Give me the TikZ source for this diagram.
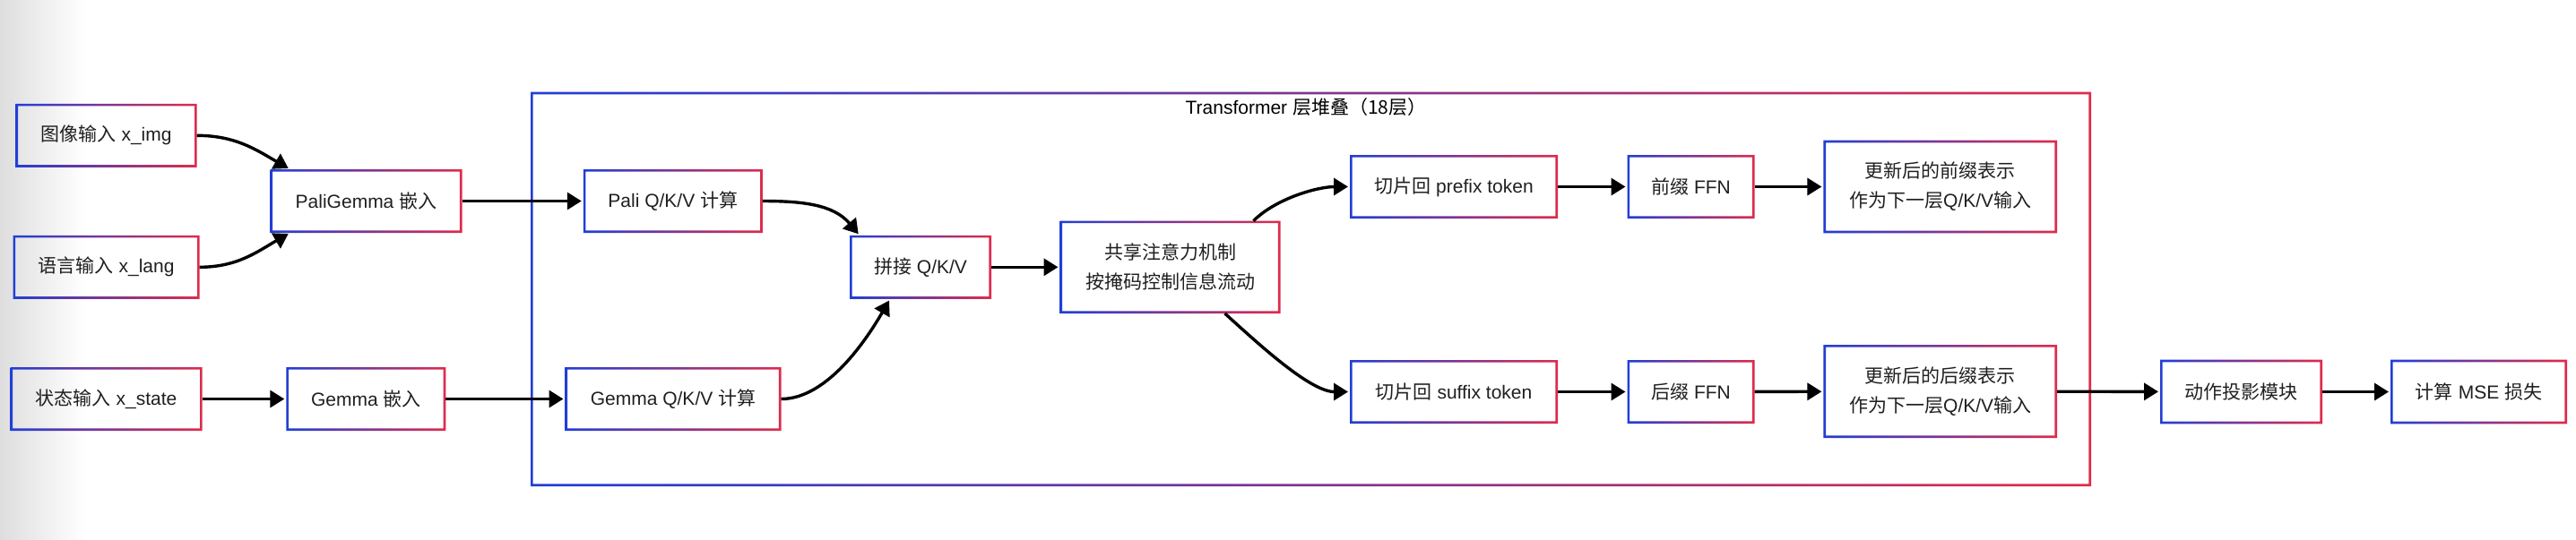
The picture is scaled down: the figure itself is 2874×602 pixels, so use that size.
\documentclass[tikz,border=0pt]{standalone}
\usepackage{fontspec}
\setmainfont{Liberation Sans}
\newfontfamily\cjk{Noto Sans CJK SC}
\newcommand{\zh}[1]{{\cjk #1}}
\usetikzlibrary{arrows.meta}
\definecolor{lblue}{RGB}{33,62,214}
\definecolor{lred}{RGB}{222,44,76}
\begin{document}
\begin{tikzpicture}[x=0.5pt,y=-0.5pt,
	box/.style={inner sep=0pt,outer sep=0pt,minimum height=35.5pt,align=center,text=black!88,font=\fontsize{10.5pt}{16.5pt}\selectfont},
	conn/.style={line width=1.7pt,shorten >=1pt,-{Triangle[length=8pt,width=9.5pt]}}]
		\useasboundingbox (0,0) rectangle (2874,602);
		\shade[left color=black!13,right color=white] (0,0) rectangle (95,602);
		\node[box,minimum width=870.5pt,minimum height=220.15pt] (stack) at (1462.5,322.85) {};
		\node[box,text=black] (title) at (1457,120) {Transformer \zh{层堆叠（18层）}};
		\node[box,minimum width=101pt] (img) at (118.6,151.3) {\zh{图像输入} x\_img};
		\node[box,minimum width=104pt] (lang) at (118.6,298.3) {\zh{语言输入} x\_lang};
		\node[box,minimum width=107pt] (state) at (118.6,445.5) {\zh{状态输入} x\_state};
		\node[box,minimum width=107pt] (pali) at (408.5,224.5) {PaliGemma \zh{嵌入}};
		\node[box,minimum width=89pt] (gemma) at (408.3,445.5) {Gemma \zh{嵌入}};
		\node[box,minimum width=100pt] (paliqkv) at (750.8,224.5) {Pali Q/K/V \zh{计算}};
		\node[box,minimum width=120.5pt] (gemmaqkv) at (751,445.5) {Gemma Q/K/V \zh{计算}};
		\node[box,minimum width=79pt] (concat) at (1027,298.3) {\zh{拼接} Q/K/V};
		\node[box,minimum width=123pt,minimum height=51.7pt] (attn) at (1305.5,298.3) {\zh{共享注意力机制}\\\zh{按掩码控制信息流动}};
		\node[box,minimum width=116pt] (preslice) at (1622,208.5) {\zh{切片回} prefix token};
		\node[box,minimum width=71pt] (preffn) at (1886.5,208.5) {\zh{前缀} FFN};
		\node[box,minimum width=130.3pt,minimum height=51.8pt] (preout) at (2164.7,208.5) {\zh{更新后的前缀表示}\\\zh{作为下一层}Q/K/V\zh{输入}};
		\node[box,minimum width=116pt] (sufslice) at (1622,437.5) {\zh{切片回} suffix token};
		\node[box,minimum width=71pt] (sufffn) at (1886.5,437.5) {\zh{后缀} FFN};
		\node[box,minimum width=130.3pt,minimum height=52pt] (sufout) at (2164.7,437) {\zh{更新后的后缀表示}\\\zh{作为下一层}Q/K/V\zh{输入}};
		\node[box,minimum width=90.5pt,minimum height=35.8pt] (action) at (2500.5,437.5) {\zh{动作投影模块}};
		\node[box,minimum width=98.5pt,minimum height=35.8pt] (mse) at (2765.5,437.5) {\zh{计算} MSE \zh{损失}};
		\foreach \n in {stack,img,lang,state,pali,gemma,paliqkv,gemmaqkv,concat,attn,preslice,preffn,preout,sufslice,sufffn,sufout,action,mse}
		{\shade[even odd rule,left color=lblue,right color=lred] (\n.north west) rectangle (\n.south east)
			([shift={(1.3pt,-1.3pt)}]\n.north west) rectangle ([shift={(-1.3pt,1.3pt)}]\n.south east);}
		\draw[conn] (img.east) to[out=0,in=150] ([xshift=11pt]pali.north west);
		\draw[conn] (lang.east) to[out=0,in=-150] ([xshift=11pt]pali.south west);
		\draw[conn] (pali) -- (paliqkv);
		\draw[conn] (state) -- (gemma);
		\draw[conn] (gemma) -- (gemmaqkv);
		\draw[conn] (paliqkv.east) to[out=0,in=130] ([xshift=5.5pt]concat.north west);
		\draw[conn] (gemmaqkv.east) to[out=0,in=-120,looseness=0.8] ([xshift=22.5pt]concat.south west);
		\draw[conn] (concat) -- (attn);
		\draw[conn] ([xshift=-15pt]attn.north east) to[out=45,in=180,looseness=0.8] (preslice.west);
		\draw[conn] ([xshift=-31pt]attn.south east) to[out=-42,in=180,looseness=0.7] (sufslice.west);
		\foreach \a/\b in {preslice/preffn,preffn/preout,sufslice/sufffn,sufffn/sufout,sufout/action,action/mse}
		{\draw[conn] (\a) -- (\b);}
	   \end{tikzpicture}
\end{document}
